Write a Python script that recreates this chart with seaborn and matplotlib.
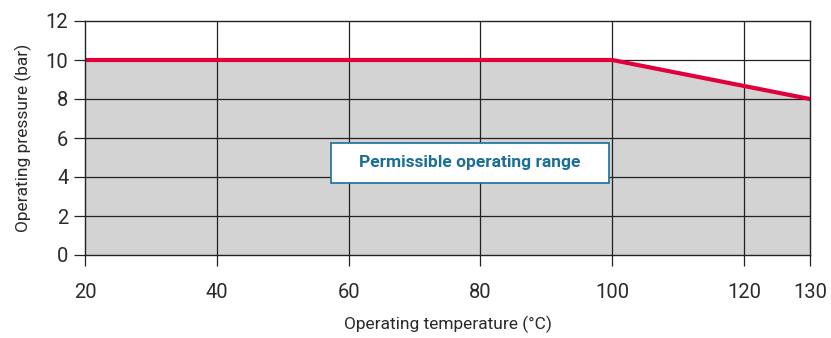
import matplotlib
matplotlib.use("Agg")
import matplotlib.pyplot as plt
from matplotlib.patches import Rectangle
import seaborn as sns
import pandas as pd

temperature = [20, 100, 130]
pressure = [10, 10, 8]
x_ticks = [20, 40, 60, 80, 100, 120, 130]
y_ticks = [0, 2, 4, 6, 8, 10, 12]
label_text = "Permissible operating range"

sns.set_theme(style="white")
plt.rcParams['font.family'] = ['Roboto', 'DejaVu Sans']

df = pd.DataFrame({"temp": temperature, "pres": pressure})

fig = plt.figure(figsize=(8.31, 3.38), dpi=100)
ax = fig.add_axes([85/831, 1-255/338, 725/831, 234/338])

ax.fill_between(df["temp"], 0, df["pres"], color="#d3d3d3", zorder=1, linewidth=0)
for xv in [40, 60, 80, 100, 120]:
    ax.axvline(xv, color="#222222", lw=0.9, zorder=2)
for yv in [2, 4, 6, 8, 10]:
    ax.axhline(yv, color="#222222", lw=0.9, zorder=2)
sns.lineplot(data=df, x="temp", y="pres", color="#e2003c", lw=3, ax=ax, zorder=3)

ax.set_xlim(20, 130)
ax.set_ylim(0, 12)
ax.set_xticks(x_ticks)
ax.set_yticks(y_ticks)
ax.set_xticklabels([str(v) for v in x_ticks], fontsize=14.5, color="#2a2a2a")
ax.set_yticklabels([str(v) for v in y_ticks], fontsize=14.5, color="#2a2a2a")
ax.tick_params(axis='both', which='both', direction='out', length=8, width=0.9, color="#222222", bottom=True, left=True)
ax.tick_params(axis='x', pad=12)
ax.tick_params(axis='y', pad=4)
for s in ax.spines.values():
    s.set_color("#222222")
    s.set_linewidth(1.0)
    s.set_zorder(4)

ax.set_xlabel("Operating temperature (°C)", fontsize=12.5, color="#2a2a2a", labelpad=10)
ax.set_ylabel("Operating pressure (bar)", fontsize=12.5, color="#2a2a2a", labelpad=10)

ax.add_patch(Rectangle((57.3, 3.69), 42.2, 2.05, facecolor="white", edgecolor="#1b6e95",
                       linewidth=1.2, zorder=5))
ax.text(78.4, 4.72, label_text, ha="center", va="center", fontsize=12.5, fontweight="bold",
        color="#1b6e95", zorder=6)

fig.savefig("out.png", dpi=100)
